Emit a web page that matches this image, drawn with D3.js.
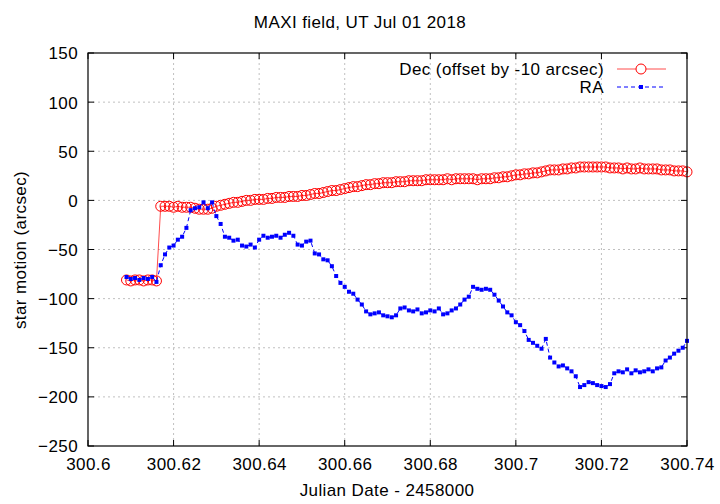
<!DOCTYPE html>
<html><head><meta charset="utf-8">
<script src="https://cdn.jsdelivr.net/npm/d3@7"></script>
<style>body{margin:0;background:#fff}svg{display:block}text{font-family:"Liberation Sans",Arial,sans-serif;letter-spacing:0.4px}</style>
</head><body><svg id="c" width="720" height="504"></svg>
<script>
const jd = [300.609,300.610,300.611,300.612,300.613,300.614,300.615,300.616,300.617,300.618,
300.619,300.620,300.621,300.622,300.623,300.624,300.625,300.626,300.627,300.628,
300.629,300.630,300.631,300.632,300.633,300.634,300.635,300.636,300.637,300.638,
300.639,300.640,300.641,300.642,300.643,300.644,300.645,300.646,300.647,300.648,
300.649,300.650,300.651,300.652,300.653,300.654,300.655,300.656,300.657,300.658,
300.659,300.660,300.661,300.662,300.663,300.664,300.665,300.666,300.667,300.668,
300.669,300.670,300.671,300.672,300.673,300.674,300.675,300.676,300.677,300.678,
300.679,300.680,300.681,300.682,300.683,300.684,300.685,300.686,300.687,300.688,
300.689,300.690,300.691,300.692,300.693,300.694,300.695,300.696,300.697,300.698,
300.699,300.700,300.701,300.702,300.703,300.704,300.705,300.706,300.707,300.708,
300.709,300.710,300.711,300.712,300.713,300.714,300.715,300.716,300.717,300.718,
300.719,300.720,300.721,300.722,300.723,300.724,300.725,300.726,300.727,300.728,
300.729,300.730,300.731,300.732,300.733,300.734,300.735,300.736,300.737,300.738,
300.739,300.740];
const dec = [-81,-82,-81,-81,-82,-81,-81,-82,-6,-6,
-6,-7,-6,-7,-7,-7,-8,-9,-9,-9,
-8,-6,-5,-4,-3,-2,-2,-1,0,0,
1,1,1,2,2,3,3,3,4,4,
4,5,5,6,7,7,8,9,10,10,
11,12,13,14,14,15,16,16,17,17,
18,18,18,19,19,19,20,20,20,20,
21,21,21,21,21,22,21,22,22,22,
22,22,21,22,22,22,23,23,24,24,
25,26,26,27,27,28,28,29,30,31,
31,31,32,32,33,33,34,34,34,34,
34,34,34,33,33,33,32,33,32,32,
33,32,32,32,32,31,31,31,30,30,
30,29];
const ra = [-78,-80,-79,-81,-79,-80,-78,-83,-66,-55,
-48,-46,-40,-37,-28,-10,-8,-7,-2,-8,
-2,-16,-24,-37,-38,-41,-40,-46,-47,-45,
-48,-40,-36,-38,-37,-36,-38,-35,-33,-36,
-45,-46,-42,-41,-54,-55,-60,-61,-67,-77,
-84,-88,-93,-95,-101,-106,-113,-116,-115,-114,
-117,-118,-119,-117,-110,-109,-112,-113,-111,-115,
-114,-112,-113,-110,-116,-115,-112,-110,-106,-101,
-98,-88,-90,-91,-90,-91,-96,-102,-108,-114,
-117,-124,-127,-133,-142,-145,-148,-151,-141,-160,
-165,-169,-168,-171,-174,-179,-190,-188,-185,-186,
-188,-189,-190,-187,-176,-174,-175,-172,-176,-173,
-175,-174,-172,-174,-171,-170,-163,-160,-156,-153,
-150,-143];
const xTicks = [300.6,300.62,300.64,300.66,300.68,300.7,300.72,300.74];
const yTicks = [-250,-200,-150,-100,-50,0,50,100,150];
const title = "MAXI field, UT Jul 01 2018";
const xLabel = "Julian Date - 2458000";
const yLabel = "star motion (arcsec)";
const seriesNames = ["Dec (offset by -10 arcsec)","RA"];

const svg = d3.select("#c");
const L=88, R=687, T=53, B=446;
const x = d3.scaleLinear().domain([300.6,300.74]).range([L,R]);
const y = d3.scaleLinear().domain([-250,150]).range([B,T]);
const fs = 17;

// grid
const g = svg.append("g");
g.selectAll(".gx").data(xTicks.slice(1,-1)).join("line")
 .attr("x1",d=>x(d)).attr("x2",d=>x(d)).attr("y1",T).attr("y2",B)
 .attr("stroke","#c0c0c0").attr("stroke-width",1).attr("stroke-dasharray","2,3");
g.selectAll(".gy").data(yTicks.slice(1,-1)).join("line")
 .attr("x1",L).attr("x2",R).attr("y1",d=>y(d)).attr("y2",d=>y(d))
 .attr("stroke","#c0c0c0").attr("stroke-width",1).attr("stroke-dasharray","2,3");

// axes
const ax = svg.append("g").attr("transform",`translate(0,${B})`)
 .call(d3.axisBottom(x).tickValues(xTicks).tickSize(0).tickPadding(9).tickFormat(d=>String(+d.toFixed(2))));
const ay = svg.append("g").attr("transform",`translate(${L},0)`)
 .call(d3.axisLeft(y).tickValues(yTicks).tickSize(0).tickPadding(10));
[ax,ay].forEach(a=>{a.select(".domain").remove();a.selectAll("text").attr("font-size",fs).attr("fill","#000").attr("font-family","Liberation Sans, Arial, sans-serif");});
ax.selectAll("text").attr("dy","0.9em");
ay.selectAll("text").attr("dy","0.35em");

// inward ticks on all sides
const tk = svg.append("g").attr("stroke","#000").attr("stroke-width",1);
xTicks.forEach(t=>{
  tk.append("line").attr("x1",x(t)).attr("x2",x(t)).attr("y1",B).attr("y2",B-6);
  tk.append("line").attr("x1",x(t)).attr("x2",x(t)).attr("y1",T).attr("y2",T+6);
});
yTicks.forEach(t=>{
  tk.append("line").attr("x1",L).attr("x2",L+6).attr("y1",y(t)).attr("y2",y(t));
  tk.append("line").attr("x1",R).attr("x2",R-6).attr("y1",y(t)).attr("y2",y(t));
});

// data
const decData = jd.map((t,i)=>({t,v:dec[i]}));
const raData = jd.map((t,i)=>({t,v:ra[i]}));
const line = d3.line().x(d=>x(d.t)).y(d=>y(d.v));
const red="#ff0000", blue="#0000ff";
svg.append("path").datum(decData).attr("d",line).attr("fill","none").attr("stroke",red).attr("stroke-width",1).attr("stroke-opacity",0.7);
svg.append("g").selectAll("circle").data(decData).join("circle")
 .attr("cx",d=>x(d.t)).attr("cy",d=>y(d.v)).attr("r",5).attr("fill","none").attr("stroke",red).attr("stroke-width",1);
svg.append("path").datum(raData).attr("d",line).attr("fill","none").attr("stroke",blue).attr("stroke-width",1).attr("stroke-dasharray","4,3");
svg.append("g").selectAll("rect").data(raData).join("rect")
 .attr("x",d=>x(d.t)-2).attr("y",d=>y(d.v)-2).attr("width",4).attr("height",4).attr("fill",blue);

// border
svg.append("rect").attr("x",L).attr("y",T).attr("width",R-L).attr("height",B-T)
 .attr("fill","none").attr("stroke","#000").attr("stroke-width",1.2);

// legend
const lg = svg.append("g");
const ly=[69,87];
lg.append("text").attr("x",604).attr("y",ly[0]).attr("dy","0.35em").attr("text-anchor","end").attr("font-size",fs).text(seriesNames[0]);
lg.append("line").attr("x1",617).attr("x2",666).attr("y1",ly[0]).attr("y2",ly[0]).attr("stroke",red).attr("stroke-opacity",0.7);
lg.append("circle").attr("cx",641).attr("cy",ly[0]).attr("r",5).attr("fill","#fff").attr("stroke",red);
lg.append("text").attr("x",604).attr("y",ly[1]).attr("dy","0.35em").attr("text-anchor","end").attr("font-size",fs).text(seriesNames[1]);
lg.append("line").attr("x1",617).attr("x2",666).attr("y1",ly[1]).attr("y2",ly[1]).attr("stroke",blue).attr("stroke-dasharray","4,3");
lg.append("rect").attr("x",639).attr("y",ly[1]-2).attr("width",4).attr("height",4).attr("fill",blue);

// titles
svg.append("text").attr("x",360).attr("y",22).attr("dy","0.35em").attr("text-anchor","middle").attr("font-size",fs).text(title);
svg.append("text").attr("x",387).attr("y",490).attr("dy","0.35em").attr("text-anchor","middle").attr("font-size",fs).text(xLabel);
svg.append("text").attr("transform","translate(20,250) rotate(-90)").attr("dy","0.35em").attr("text-anchor","middle").attr("font-size",fs).text(yLabel);
</script></body></html>
